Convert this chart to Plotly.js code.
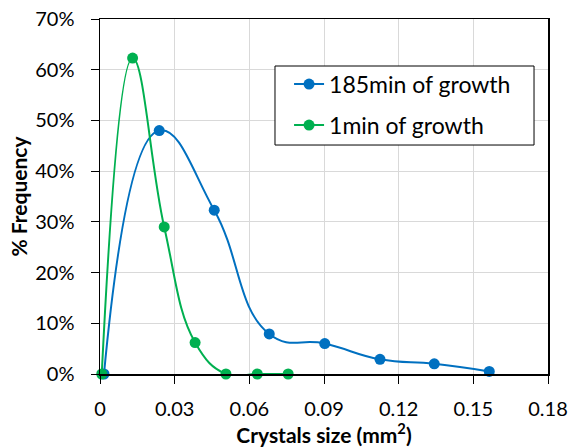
<!DOCTYPE html>
<html>
<head>
<meta charset="utf-8">
<script src="https://cdn.plot.ly/plotly-3.0.1.min.js"></script>
<style>html,body{margin:0;padding:0;background:#fff;}#chart{width:574px;height:448px;}</style>
</head>
<body>
<div id="chart"></div>
<script>
// Data
const sizes185 = [0.0016, 0.0238, 0.0459, 0.068, 0.0903, 0.1125, 0.1343, 0.1564];
const freq185  = [0, 48, 32.3, 7.9, 6.0, 2.9, 2.0, 0.5];
const sizes1   = [0.0007, 0.0131, 0.0258, 0.0382, 0.0506, 0.0632, 0.0756];
const freq1    = [0, 62.3, 29, 6.2, 0, 0, 0];
const xTicks   = [0, 0.03, 0.06, 0.09, 0.12, 0.15, 0.18];
const xLabels  = ['0', '0.03', '0.06', '0.09', '0.12', '0.15', '0.18'];
const yTicks   = [0, 10, 20, 30, 40, 50, 60, 70];
const yLabels  = ['0%', '10%', '20%', '30%', '40%', '50%', '60%', '70%'];

const FONT = 'Lato, "Open Sans", sans-serif';

const traces = [
  {x: sizes185, y: freq185, name: '185min of growth', mode: 'lines+markers', legendgroup: 'a',
   line: {color: '#0070C0', width: 2, shape: 'spline', smoothing: 1.3},
   marker: {color: '#0070C0', size: 11}, cliponaxis: false},
  {x: sizes1, y: freq1, name: '1min of growth', mode: 'lines+markers', legendgroup: 'b',
   line: {color: '#00B050', width: 2, shape: 'spline', smoothing: 1.2},
   marker: {color: '#00B050', size: 11}, cliponaxis: false}
];

const layout = {
  width: 574, height: 448,
  margin: {l: 100, r: 26, t: 19, b: 74},
  paper_bgcolor: '#fff', plot_bgcolor: '#fff',
  font: {family: FONT, size: 20, color: '#000'},
  showlegend: true,
  legend: {x: 0.422, y: 0.877, xanchor: 'left', yanchor: 'top',
           bgcolor: 'rgba(0,0,0,0)', borderwidth: 0, traceorder: 'grouped',
           font: {family: FONT, size: 23, color: '#000'}, tracegroupgap: 8},
  shapes: [{type: 'rect', xref: 'paper', yref: 'paper', layer: 'above',
            x0: 0.3906, x1: 0.9688, y0: 0.645, y1: 0.8676,
            fillcolor: '#fff', line: {color: '#000', width: 1}}],
  xaxis: {range: [0, 0.18], tickvals: xTicks, ticktext: xLabels,
          showgrid: true, gridcolor: '#d9d9d9', gridwidth: 1,
          showline: true, linecolor: '#000', linewidth: 1.5, mirror: true,
          ticks: 'outside', ticklen: 8, tickcolor: '#000', zeroline: false,
          ticklabelstandoff: 8,
          tickfont: {family: FONT, size: 20},
          title: {text: '<b>Crystals size (mm<sup>2</sup>)</b>', font: {family: FONT, size: 21}, standoff: 2}},
  yaxis: {range: [0, 70], tickvals: yTicks, ticktext: yLabels,
          showgrid: true, gridcolor: '#d9d9d9', gridwidth: 1,
          showline: true, linecolor: '#000', linewidth: 1.5, mirror: true,
          ticks: 'outside', ticklen: 8, tickcolor: '#000', zeroline: false,
          ticklabelstandoff: 12,
          tickfont: {family: FONT, size: 20},
          title: {text: '<b>% Frequency</b>', font: {family: FONT, size: 21}, standoff: 2}}
};

Plotly.newPlot('chart', traces, layout, {displayModeBar: false, staticPlot: true});
</script>
</body>
</html>
